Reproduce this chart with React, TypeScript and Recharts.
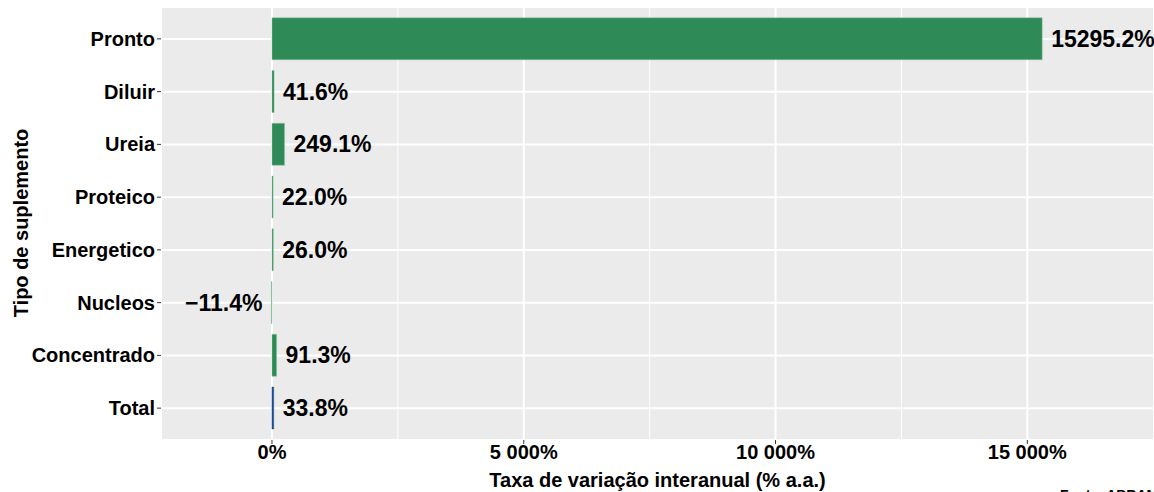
import React from 'react';
import {
  Bar,
  BarChart,
  CartesianGrid,
  Cell,
  Label,
  LabelList,
  XAxis,
  YAxis,
} from 'recharts';

const categories = ['Pronto', 'Diluir', 'Ureia', 'Proteico', 'Energetico', 'Nucleos', 'Concentrado', 'Total'];
const variation = [15295.2, 41.6, 249.1, 22.0, 26.0, -11.4, 91.3, 33.8];
const xTicks = [0, 5000, 10000, 15000];
const xMinorTicks = [2500, 7500, 12500];

const data = categories.map((tipo, i) => ({ tipo, taxa: variation[i] }));

const FONT = '"Liberation Sans", Arial, Helvetica, sans-serif';
const GREEN = '#2E8B57';
const BLUE = '#1F4E8C';

const fmtTick = (v: number) =>
  v === 0 ? '0%' : `${String(v).replace(/\B(?=(\d{3})+(?!\d))/g, ' ')}%`;

const fmtLabel = (v: number) =>
  v < 0 ? `\u2212${Math.abs(v).toFixed(1)}%` : `${v.toFixed(1)}%`;

export default function App() {
  return (
    <div style={{ position: 'absolute', left: 0, top: 0, fontFamily: FONT }}>
      <BarChart
        width={1154}
        height={492}
        data={data}
        layout="vertical"
        margin={{ top: 7, right: 0, left: 0, bottom: 0 }}
        barCategoryGap="10%"
      >
        <CartesianGrid
          fill="#EBEBEB"
          stroke="#FFFFFF"
          strokeWidth={1}
          horizontal={false}
          verticalValues={xMinorTicks}
        />
        <CartesianGrid stroke="#FFFFFF" strokeWidth={2} />
        <XAxis
          type="number"
          domain={[-2204, 17516]}
          ticks={xTicks}
          tickFormatter={fmtTick}
          allowDataOverflow
          height={52}
          axisLine={false}
          tickSize={4}
          tickMargin={1}
          tickLine={{ stroke: '#333333' }}
          tick={{ fill: '#000000', fontSize: 20, fontWeight: 'bold', fontFamily: FONT }}
        >
          <Label
            value="Taxa de variação interanual (% a.a.)"
            position="insideBottom"
            offset={5}
            style={{ fill: '#000000', fontSize: 20, fontWeight: 'bold', fontFamily: FONT }}
          />
        </XAxis>
        <YAxis
          type="category"
          dataKey="tipo"
          width={161}
          padding={{ top: 5.5, bottom: 5.5 }}
          axisLine={false}
          tickSize={4}
          tickMargin={2}
          tickLine={{ stroke: '#333333' }}
          tick={{ fill: '#000000', fontSize: 20, fontWeight: 'bold', fontFamily: FONT }}
        >
          <Label
            content={() => (
              <text
                x={28}
                y={223}
                transform="rotate(-90, 28, 223)"
                textAnchor="middle"
                fill="#000000"
                fontSize={20}
                fontWeight="bold"
                fontFamily={FONT}
              >
                Tipo de suplemento
              </text>
            )}
          />
        </YAxis>
        <Bar dataKey="taxa" isAnimationActive={false} stroke="#8CC5A3" strokeWidth={0.5}>
          {data.map((d) => (
            <Cell key={d.tipo} fill={d.tipo === 'Total' ? BLUE : GREEN} stroke={d.tipo === 'Total' ? BLUE : '#8CC5A3'} />
          ))}
          <LabelList
            dataKey="taxa"
            position="right"
            offset={9}
            formatter={(v: any) => fmtLabel(Number(v))}
            style={{ fill: '#000000', fontSize: 23, fontWeight: 'bold', fontFamily: FONT }}
          />
        </Bar>
        <text x={1060} y={500} fill="#000000" fontSize={14} fontWeight="bold" fontFamily={FONT}>
          Fonte: ABRAME
        </text>
      </BarChart>
    </div>
  );
}
